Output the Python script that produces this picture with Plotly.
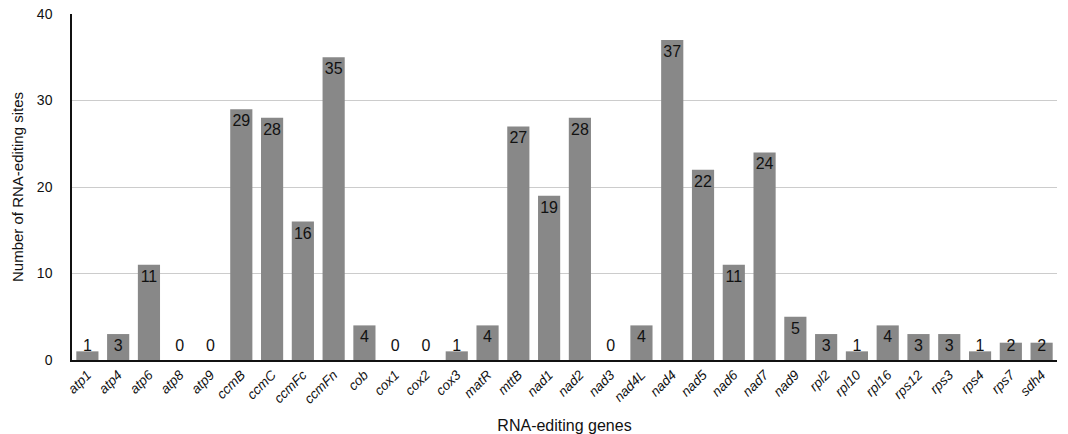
import plotly.graph_objects as go

genes = ["atp1", "atp4", "atp6", "atp8", "atp9", "ccmB", "ccmC", "ccmFc", "ccmFn", "cob",
         "cox1", "cox2", "cox3", "matR", "mttB", "nad1", "nad2", "nad3", "nad4L", "nad4",
         "nad5", "nad6", "nad7", "nad9", "rpl2", "rpl10", "rpl16", "rps12", "rps3", "rps4",
         "rps7", "sdh4"]
sites = [1, 3, 11, 0, 0, 29, 28, 16, 35, 4,
         0, 0, 1, 4, 27, 19, 28, 0, 4, 37,
         22, 11, 24, 5, 3, 1, 4, 3, 3, 1,
         2, 2]
y_ticks = [0, 10, 20, 30, 40]

FONT = "Liberation Sans, Arial, Helvetica, sans-serif"

label_y = [max(v - 1.5, 1.45) for v in sites]

fig = go.Figure()
fig.add_trace(go.Bar(
    x=genes, y=sites, marker=dict(color="#888888", line=dict(width=0)),
    width=0.72, hoverinfo="x+y",
))
fig.add_trace(go.Scatter(
    x=genes, y=label_y, mode="text", text=[str(v) for v in sites],
    textposition="middle center", textfont=dict(family=FONT, size=16, color="#111111"),
    hoverinfo="skip", cliponaxis=False,
))

fig.update_layout(
    width=1068, height=434,
    margin=dict(l=72, r=11, t=14, b=74),
    paper_bgcolor="white", plot_bgcolor="white",
    showlegend=False,
    font=dict(family=FONT, size=13, color="#111111"),
)
fig.update_xaxes(
    type="category", range=[-0.5, len(genes) - 0.5], tickangle=-45,
    tickfont=dict(family=FONT, size=13.5, style="italic"),
    showline=True, linecolor="#111111", linewidth=1.5,
    showgrid=False, ticks="", automargin=False,
    title=dict(text="RNA-editing genes", font=dict(size=16), standoff=14),
)
fig.update_yaxes(
    range=[0, 40], tickvals=y_ticks, ticktext=[str(t) for t in y_ticks],
    showline=True, linecolor="#111111", linewidth=1.5,
    showgrid=True, gridcolor="#cccccc", gridwidth=1,
    zeroline=False, ticks="", ticklabelstandoff=15, automargin=False,
    tickfont=dict(size=14),
    title=dict(text="Number of RNA-editing sites", font=dict(size=15), standoff=10),
)

fig.write_html("out.html", config={"displayModeBar": False},
               post_script="document.body.style.margin='0';")
